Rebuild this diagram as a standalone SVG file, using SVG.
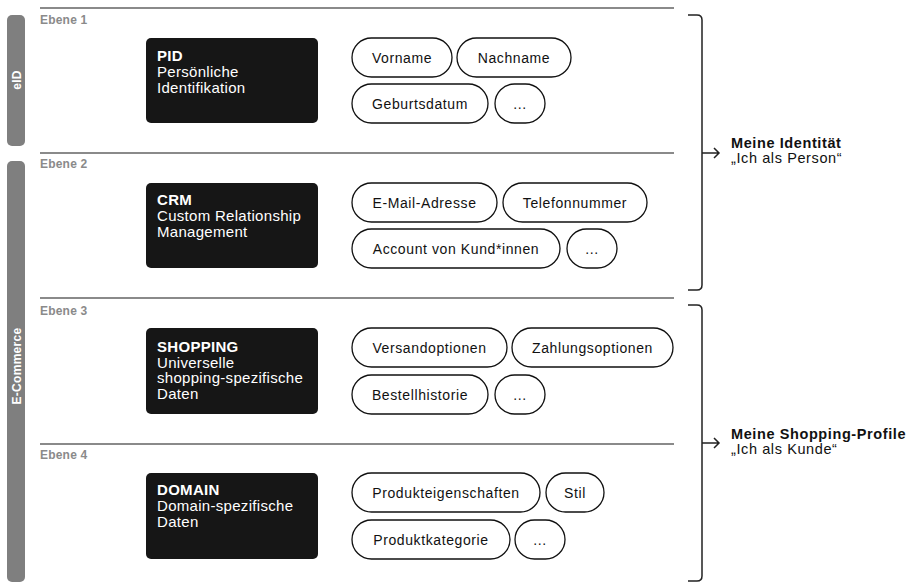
<svg xmlns="http://www.w3.org/2000/svg" width="911" height="585" viewBox="0 0 911 585">
<style>
text{font-family:"Liberation Sans",Arial,sans-serif}
.sep{stroke:#8a8a8a;stroke-width:2}
.lvl{font-size:12px;font-weight:bold;fill:#8a8a8a;letter-spacing:0.2px}
.bar{fill:#7f7f7f}
.barT{font-size:12px;font-weight:bold;fill:#fff;text-anchor:middle;letter-spacing:0.3px}
.box{fill:#161616}
.bt{font-size:15px;fill:#fff;letter-spacing:0.3px}
.bt .h{font-weight:bold}
.pill{fill:#fff;stroke:#111;stroke-width:1.3}
.pt{font-size:14px;fill:#111;text-anchor:middle;letter-spacing:0.6px}
.br{fill:none;stroke:#222;stroke-width:1.5}
.st{font-size:14.5px;fill:#111;letter-spacing:0.6px}
.st .h{font-weight:bold}
</style>

<g id="separators">
<line class="sep" x1="40" y1="8" x2="674" y2="8"/>
<line class="sep" x1="40" y1="153" x2="674" y2="153"/>
<line class="sep" x1="40" y1="298" x2="674" y2="298"/>
<line class="sep" x1="40" y1="444" x2="674" y2="444"/>
<text class="lvl" x="40" y="24">Ebene 1</text>
<text class="lvl" x="40" y="168">Ebene 2</text>
<text class="lvl" x="40" y="315">Ebene 3</text>
<text class="lvl" x="40" y="459">Ebene 4</text>
</g>

<g id="bar-eid">
<rect class="bar" x="7" y="15" width="18" height="131" rx="5"/>
<text class="barT" transform="translate(20.5,80) rotate(-90)">eID</text>
</g>
<g id="bar-ecommerce">
<rect class="bar" x="7" y="161" width="18" height="421" rx="5"/>
<text class="barT" transform="translate(20.5,366) rotate(-90)">E-Commerce</text>
</g>

<g id="pid">
<rect class="box" x="146" y="38" width="172" height="85" rx="5"/>
<text class="bt" x="157" y="61"><tspan class="h">PID</tspan><tspan x="157" y="77">Persönliche</tspan><tspan x="157" y="93">Identifikation</tspan></text>
</g>
<g id="pid-items">
<rect class="pill" x="352" y="38" width="100" height="39" rx="19.5"/><text class="pt" x="402" y="62.5">Vorname</text>
<rect class="pill" x="457" y="38" width="114" height="39" rx="19.5"/><text class="pt" x="514" y="62.5">Nachname</text>
<rect class="pill" x="352" y="84" width="136" height="39" rx="19.5"/><text class="pt" x="420" y="108.5">Geburtsdatum</text>
<rect class="pill" x="495" y="84" width="50" height="39" rx="19.5"/><text class="pt" x="520" y="108.5">...</text>
</g>

<g id="crm">
<rect class="box" x="146" y="183" width="172" height="85" rx="5"/>
<text class="bt" x="157" y="205"><tspan class="h">CRM</tspan><tspan x="157" y="221">Custom Relationship</tspan><tspan x="157" y="237">Management</tspan></text>
</g>
<g id="crm-items">
<rect class="pill" x="352" y="183" width="145" height="39" rx="19.5"/><text class="pt" x="424.5" y="207.5">E-Mail-Adresse</text>
<rect class="pill" x="503" y="183" width="144" height="39" rx="19.5"/><text class="pt" x="575" y="207.5">Telefonnummer</text>
<rect class="pill" x="352" y="229" width="208" height="39" rx="19.5"/><text class="pt" x="456" y="253.5">Account von Kund*innen</text>
<rect class="pill" x="567" y="229" width="50" height="39" rx="19.5"/><text class="pt" x="592" y="253.5">...</text>
</g>

<g id="shopping">
<rect class="box" x="146" y="328" width="172" height="86" rx="5"/>
<text class="bt" x="157" y="351.5"><tspan class="h">SHOPPING</tspan><tspan x="157" y="367.5">Universelle</tspan><tspan x="157" y="383">shopping-spezifische</tspan><tspan x="157" y="399">Daten</tspan></text>
</g>
<g id="shopping-items">
<rect class="pill" x="352" y="328" width="155" height="39" rx="19.5"/><text class="pt" x="429.5" y="352.5">Versandoptionen</text>
<rect class="pill" x="512" y="328" width="161" height="39" rx="19.5"/><text class="pt" x="592.5" y="352.5">Zahlungsoptionen</text>
<rect class="pill" x="352" y="375" width="136" height="39" rx="19.5"/><text class="pt" x="420" y="399.5">Bestellhistorie</text>
<rect class="pill" x="495" y="375" width="50" height="39" rx="19.5"/><text class="pt" x="520" y="399.5">...</text>
</g>

<g id="domain">
<rect class="box" x="146" y="473" width="172" height="86" rx="5"/>
<text class="bt" x="157" y="495"><tspan class="h">DOMAIN</tspan><tspan x="157" y="511">Domain-spezifische</tspan><tspan x="157" y="527">Daten</tspan></text>
</g>
<g id="domain-items">
<rect class="pill" x="352" y="473" width="188" height="39" rx="19.5"/><text class="pt" x="446" y="497.5">Produkteigenschaften</text>
<rect class="pill" x="546" y="473" width="58" height="39" rx="19.5"/><text class="pt" x="575" y="497.5">Stil</text>
<rect class="pill" x="352" y="520" width="158" height="39" rx="19.5"/><text class="pt" x="431" y="544.5">Produktkategorie</text>
<rect class="pill" x="515" y="520" width="50" height="39" rx="19.5"/><text class="pt" x="540" y="544.5">...</text>
</g>

<g id="connectors">
<path class="br" d="M688,15 H697 Q702,15 702,20 V285 Q702,290 697,290 H688"/>
<path class="br" d="M702,153 H719 M714,148 L719,153 L714,158"/>
<path class="br" d="M688,305 H697 Q702,305 702,310 V576 Q702,581 697,581 H688"/>
<path class="br" d="M702,443 H719 M714,438 L719,443 L714,448"/>
</g>

<g id="identity">
<text class="st" x="731" y="148"><tspan class="h">Meine Identität</tspan><tspan x="731" y="163">„Ich als Person“</tspan></text>
</g>
<g id="shopping-profile">
<text class="st" x="731" y="439"><tspan class="h">Meine Shopping-Profile</tspan><tspan x="731" y="454">„Ich als Kunde“</tspan></text>
</g>
</svg>
